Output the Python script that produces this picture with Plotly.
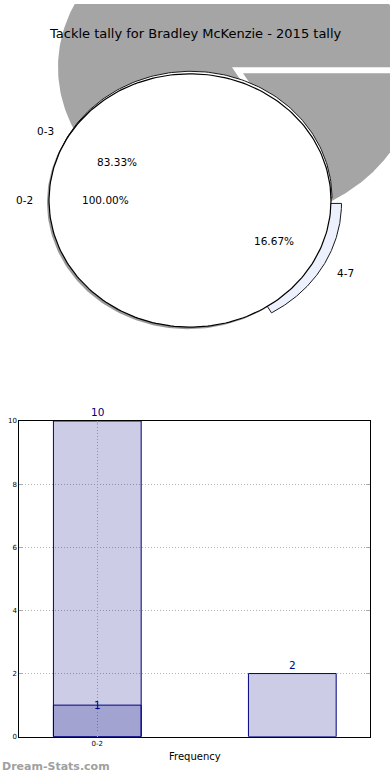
import numpy as np
import plotly.graph_objects as go

# ---------------- data ----------------
title_text = "Tackle tally for Bradley McKenzie - 2015 tally"
tally_labels = ["0-3", "4-7"]
tally_values = [10, 2]
interval_labels = ["0-2"]
interval_values = [1]
bar_positions_a = [0, 1]
bar_positions_b = [0]
y_ticks = [0, 2, 4, 6, 8, 10]
x_axis_title = "Frequency"
y_axis_title = "Tackle Interval"
watermark = "Dream-Stats.com"

# ---------------- layout / style constants ----------------
W, H = 390, 780
MAIN = dict(cx=190.0, cy=198.5, rx=141.0, ry=128.0)
TALLY_SHIFT = (1.0, -2.5)          # outline offset of the tally pie
EXPLODE_MAIN = [(0, 0), (10.5, 3.0)]
BIG = dict(cx=232.0, cy=64.0, rx=174.0, ry=150.0)
EXPLODE_BIG = [(0, 0), (11.0, 6.0)]
SMALL_SHADOW = (-2.0, 2.0)
FONT = "DejaVu Sans"
NAVY = "#000080"


def wedge(cx, cy, rx, ry, a0, a1, n=240):
    t = np.radians(np.linspace(a0, a1, n))
    xs = cx + rx * np.cos(t)
    ys = cy - ry * np.sin(t)
    if abs(a1 - a0) >= 359.999:
        return list(xs), list(ys)
    return [cx] + list(xs) + [cx], [cy] + list(ys) + [cy]


def slice_angles(values):
    v = np.asarray(values, dtype=float)
    frac = v / v.sum()
    ends = np.cumsum(frac) * 360.0
    starts = ends - frac * 360.0
    return frac, starts, ends


fig = go.Figure()


def add_poly(xs, ys, fill, line_color=None, line_width=0):
    fig.add_trace(go.Scatter(
        x=xs, y=ys, mode="lines", fill="toself", fillcolor=fill,
        line=dict(color=line_color or fill, width=line_width),
        hoverinfo="skip", showlegend=False, xaxis="x", yaxis="y"))


t_frac, t_start, t_end = slice_angles(tally_values)
i_frac, i_start, i_end = slice_angles(interval_values)

# big grey shadow of the tally pie
for k in range(len(tally_values)):
    ox, oy = EXPLODE_BIG[k]
    xs, ys = wedge(BIG["cx"] + ox, BIG["cy"] + oy, BIG["rx"], BIG["ry"], t_start[k], t_end[k])
    add_poly(xs, ys, "#a5a5a5", "#a5a5a5", 0)

# tally pie slices (exploded one first, then the main)
tally_fills = ["#ffffff", "#ecf1fd"]
for k in reversed(range(len(tally_values))):
    ox, oy = EXPLODE_MAIN[k]
    sx, sy = (TALLY_SHIFT if ox == 0 and oy == 0 else (0, 0))
    xs, ys = wedge(MAIN["cx"] + ox + sx, MAIN["cy"] + oy + sy, MAIN["rx"], MAIN["ry"], t_start[k], t_end[k])
    add_poly(xs, ys, tally_fills[k], "#1a1a1a", 1)

# small shadow of the interval pie
for k in range(len(interval_values)):
    xs, ys = wedge(MAIN["cx"] + SMALL_SHADOW[0], MAIN["cy"] + SMALL_SHADOW[1], MAIN["rx"], MAIN["ry"],
                   i_start[k], i_end[k])
    add_poly(xs, ys, "rgba(0,0,0,0.4)", "rgba(0,0,0,0.4)", 0)

# interval pie
for k in range(len(interval_values)):
    xs, ys = wedge(MAIN["cx"], MAIN["cy"], MAIN["rx"], MAIN["ry"], i_start[k], i_end[k])
    add_poly(xs, ys, "#ffffff", "#000000", 1.2)

annotations = []


def pie_labels(labels, frac, starts, ends, explode):
    for k, lab in enumerate(labels):
        mid = np.radians((starts[k] + ends[k]) / 2.0)
        ox, oy = explode[k]
        cx, cy = MAIN["cx"] + ox, MAIN["cy"] + oy
        lx = cx + 1.1 * MAIN["rx"] * np.cos(mid)
        ly = cy - 1.1 * MAIN["ry"] * np.sin(mid)
        annotations.append(dict(x=lx, y=ly, xref="x", yref="y", text=lab, showarrow=False,
                                xanchor="right" if np.cos(mid) < 0 else "left", yanchor="middle",
                                font=dict(family=FONT, size=10.5, color="#000")))
        px = cx + 0.6 * MAIN["rx"] * np.cos(mid)
        py = cy - 0.6 * MAIN["ry"] * np.sin(mid)
        annotations.append(dict(x=px, y=py, xref="x", yref="y", text=f"{frac[k]*100:.2f}%",
                                showarrow=False, xanchor="center", yanchor="middle",
                                font=dict(family=FONT, size=10.5, color="#000")))


pie_labels(tally_labels, t_frac, t_start, t_end, EXPLODE_MAIN)
pie_labels(interval_labels, i_frac, i_start, i_end, [(0, 0)])

# ---------------- bar chart ----------------
bar_style = dict(marker=dict(color="rgba(0,0,128,0.2)", line=dict(color=NAVY, width=1)),
                 width=0.45, xaxis="x2", yaxis="y2", hoverinfo="skip", showlegend=False)
fig.add_trace(go.Bar(x=bar_positions_a, y=tally_values, **bar_style))
fig.add_trace(go.Bar(x=bar_positions_b, y=interval_values, **bar_style))

for xv, yv in zip(bar_positions_a, tally_values):
    annotations.append(dict(x=xv, y=yv, xref="x2", yref="y2", text=str(yv), showarrow=False,
                            yanchor="middle", yshift=9,
                            font=dict(family=FONT, size=10.5, color=NAVY)))
for xv, yv in zip(bar_positions_b, interval_values):
    annotations.append(dict(x=xv, y=yv, xref="x2", yref="y2", text=str(yv), showarrow=False,
                            yanchor="middle", yshift=0,
                            font=dict(family=FONT, size=10.5, color=NAVY)))

ax_left, ax_right = 19.3, 370.3
ax_top, ax_bottom = 421.3, 740.3

# title
annotations.append(dict(x=0.5, y=1 - 30 / H, xref="paper", yref="paper", text=title_text,
                        showarrow=False, xanchor="center", yanchor="middle",
                        font=dict(family=FONT, size=13, color="#000")))
# x axis title
annotations.append(dict(x=(ax_left + ax_right) / 2 / W, y=1 - 760 / H, xref="paper", yref="paper",
                        text=x_axis_title, showarrow=False, xanchor="center", yanchor="middle",
                        font=dict(family=FONT, size=10, color="#000")))
# y axis title (mostly clipped at the left edge, as in the original)
annotations.append(dict(x=3 / W, y=1 - (ax_top + ax_bottom) / 2 / H, xref="paper", yref="paper",
                        text=y_axis_title, showarrow=False, xanchor="right", yanchor="middle",
                        textangle=-90, font=dict(family=FONT, size=10, color="#000")))
# watermark
annotations.append(dict(x=0, y=1 - 770 / H, xref="paper", yref="paper", text=watermark,
                        showarrow=False, xanchor="left", yanchor="middle",
                        font=dict(family=FONT, size=11, color="#a0a0a0", weight="bold")))

fig.update_layout(
    width=W, height=H, margin=dict(l=0, r=0, t=0, b=0),
    paper_bgcolor="white", plot_bgcolor="white",
    barmode="overlay", showlegend=False,
    xaxis=dict(domain=[0, 1], range=[0, W], visible=False, fixedrange=True),
    yaxis=dict(domain=[0.5, 1], range=[H / 2, 0], visible=False, fixedrange=True),
    xaxis2=dict(domain=[ax_left / W, ax_right / W], range=[-0.4, 1.4], anchor="y2",
                tickvals=bar_positions_b, ticktext=interval_labels,
                showline=True, linecolor="black", linewidth=1, mirror="ticks",
                ticks="inside", ticklen=4, tickcolor="#aaaaaa",
                showgrid=True, gridcolor="#b5b5b5", griddash="1px,2px", gridwidth=1,
                zeroline=False, tickfont=dict(family=FONT, size=7, color="#000")),
    yaxis2=dict(domain=[1 - ax_bottom / H, 1 - ax_top / H], range=[0, 10], anchor="x2",
                tickvals=y_ticks, showline=True, linecolor="black", linewidth=1, mirror="ticks",
                ticks="inside", ticklen=4, tickcolor="#aaaaaa",
                showgrid=True, gridcolor="#b5b5b5", griddash="1px,2px", gridwidth=1,
                zeroline=False, tickfont=dict(family=FONT, size=7, color="#000")),
    annotations=annotations,
)

fig.write_html("out.html", config=dict(displayModeBar=False),
               post_script="document.body.style.margin='0';document.body.style.overflow='hidden';")
